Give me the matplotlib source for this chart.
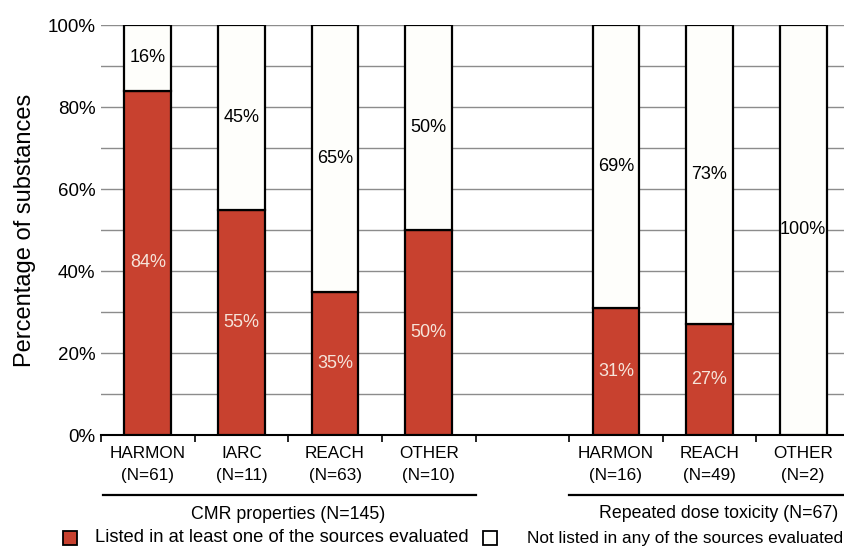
import numpy as np
import matplotlib.pyplot as plt
from matplotlib.patches import Rectangle

plt.rcParams['font.family'] = ['Liberation Sans', 'DejaVu Sans']

# data
sources = ['HARMON', 'IARC', 'REACH', 'OTHER', 'HARMON', 'REACH', 'OTHER']
counts = [61, 11, 63, 10, 16, 49, 2]
listed = [84, 55, 35, 50, 31, 27, 0]
not_listed = [16, 45, 65, 50, 69, 73, 100]
slots = [0, 1, 2, 3, 5, 6, 7]
groups = ['CMR properties (N=145)', 'Repeated dose toxicity (N=67)']
legend_labels = ['Listed in at least one of the sources evaluated',
                 'Not listed in any of the sources evaluated']

red = '#C8412F'
white = '#FEFEFB'
W, H = 844, 546

fig = plt.figure(figsize=(8.44, 5.46), dpi=100)
ax = fig.add_axes([101 / W, 111 / H, 749 / W, 410 / H])

x = np.array(slots)
ax.bar(x, listed, width=0.5, color=red, edgecolor='black', linewidth=1.6, zorder=3)
ax.bar(x, not_listed, width=0.5, bottom=listed, color=white, edgecolor='black',
       linewidth=1.6, zorder=3)

for xi, a, b in zip(x, listed, not_listed):
    if a > 0:
        ax.text(xi, a / 2, f'{a}%', ha='center', va='center', color='#F6E4DA',
                fontsize=13, zorder=4)
    ax.text(xi, a + b / 2, f'{b}%', ha='center', va='center', color='black',
            fontsize=13, zorder=4)

ax.set_xlim(-0.5, 7.5)
ax.set_ylim(0, 100)
ax.set_yticks(np.arange(0, 101, 20))
ax.set_yticklabels([f'{v}%' for v in range(0, 101, 20)], fontsize=13.5)
ax.set_yticks(np.arange(0, 101, 10), minor=True)
ax.grid(axis='y', which='both', color='#8c8c8c', linewidth=1.0, zorder=0)
ax.tick_params(axis='y', which='both', length=0, pad=4)

ax.set_xticks(x)
ax.set_xticklabels([f'{s}\n(N={n})' for s, n in zip(sources, counts)], fontsize=12.3,
                   linespacing=1.6)
ax.set_xticks(np.arange(-0.5, 7.6, 1), minor=True)
ax.tick_params(axis='x', which='major', length=0, pad=8)
ax.tick_params(axis='x', which='minor', length=5, width=1.2, direction='out')

for side in ['left', 'right', 'top']:
    ax.spines[side].set_visible(False)
ax.spines['bottom'].set_linewidth(1.5)

ax.set_ylabel('Percentage of substances', fontsize=17, labelpad=8)

# group brackets under the category labels
tr = ax.get_xaxis_transform()
ax.plot([-0.48, 3.5], [-0.146, -0.146], color='black', lw=1.6, transform=tr, clip_on=False)
ax.plot([4.5, 7.5], [-0.146, -0.146], color='black', lw=1.6, transform=tr, clip_on=False)
ax.text(1.5, -0.193, groups[0], ha='center', va='center', fontsize=12.8, transform=tr)
fig.text(838 / W, 1 - 513 / H, groups[1], ha='right', va='center', fontsize=12.8)

# legend drawn by hand to match the spacing of the original
for (x0, tx, fs), fc, lab in zip([(63, 95, 13.2), (483, 527, 12.4)], [red, white],
                                 legend_labels):
    fig.patches.append(Rectangle((x0 / W, 1 - 545 / H), 14 / W, 14 / H,
                                 transform=fig.transFigure, facecolor=fc,
                                 edgecolor='black', linewidth=1.3))
    fig.text(tx / W, 1 - 538 / H, lab, ha='left', va='center', fontsize=fs)

fig.savefig('out.png', dpi=100)
